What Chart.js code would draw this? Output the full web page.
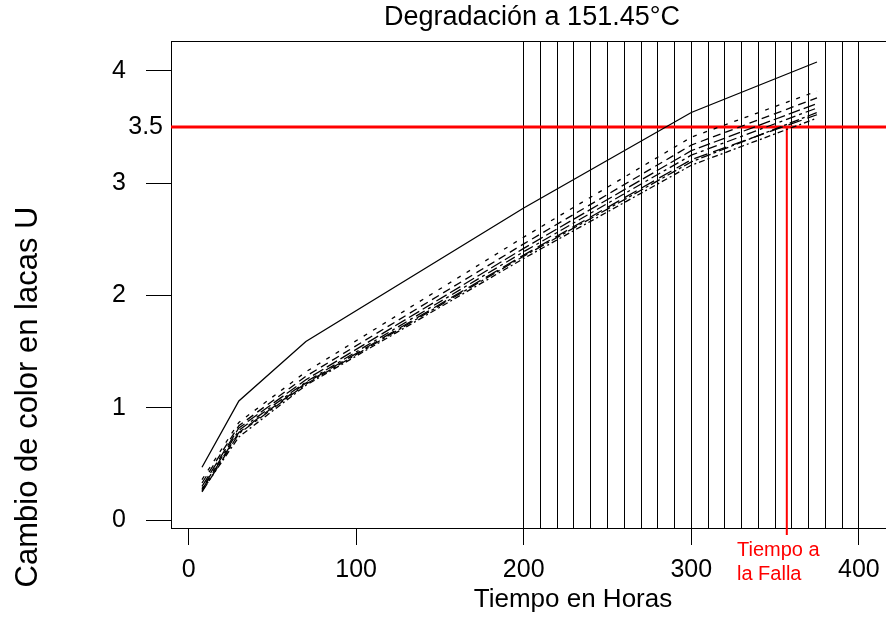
<!DOCTYPE html>
<html>
<head>
<meta charset="utf-8">
<script src="https://cdn.jsdelivr.net/npm/chart.js@4.4.1/dist/chart.umd.min.js"></script>
<style>
  html, body { margin: 0; padding: 0; background: #fff; }
  #wrap { width: 886px; height: 618px; position: relative; }
</style>
</head>
<body>
<div id="wrap"><canvas id="degradacion"></canvas></div>
<script>
// tiempos de medición (horas)
const horas = [8, 30, 70, 200, 300, 375];

// cambio de color de cada laca
const lacaU1 = [0.47, 1.06, 1.59, 2.78, 3.63, 4.08];
const lacaU2 = [0.36, 0.87, 1.32, 2.52, 3.41, 3.82];
const lacaU3 = [0.33, 0.84, 1.28, 2.46, 3.34, 3.76];
const lacaU4 = [0.30, 0.82, 1.25, 2.42, 3.29, 3.71];
const lacaU5 = [0.28, 0.80, 1.23, 2.39, 3.25, 3.67];
const lacaU6 = [0.27, 0.78, 1.22, 2.36, 3.21, 3.61];
const lacaU7 = [0.26, 0.74, 1.20, 2.33, 3.16, 3.58];
const lacaU8 = [0.25, 0.77, 1.21, 2.35, 3.19, 3.63];

const xTicks = [0, 100, 200, 300, 400];
const yTicks = [0, 1, 2, 3, 4];
const tiemposGrid = [200, 210, 220, 230, 240, 250, 260, 270, 280, 290, 300,
                     310, 320, 330, 340, 350, 360, 370, 380, 390, 400];
const umbral = 3.5;
const tiempoFalla = 357;

const X_MIN = -10.5, X_MAX = 416.2;
const Y_MIN = -0.071, Y_MAX = 4.267;

const FONT = "'Liberation Sans', Arial, sans-serif";
Chart.defaults.font.family = FONT;
Chart.defaults.color = '#000';

const series = [lacaU1, lacaU2, lacaU3, lacaU4, lacaU5, lacaU6, lacaU7, lacaU8];
const dashes = [[], [4, 7], [8, 5], [12, 4], [3, 4, 10, 4], [14, 6], [6, 3, 2, 3], [10, 3, 3, 3]];

const datasets = series.map((s, i) => ({
  data: s.map((v, j) => ({ x: horas[j], y: v })),
  borderColor: '#000',
  borderWidth: 1.3,
  borderDash: dashes[i],
  pointRadius: 0,
  tension: 0
}));

datasets.push({
  data: [{ x: X_MIN, y: umbral }, { x: X_MAX, y: umbral }],
  borderColor: '#ff0000',
  borderWidth: 3,
  pointRadius: 0
});
datasets.push({
  data: [{ x: tiempoFalla, y: umbral }, { x: tiempoFalla, y: -0.134 }],
  borderColor: '#ff0000',
  borderWidth: 2,
  pointRadius: 0,
  clip: false
});

// no reservar espacio para la etiqueta del último tick
const sinPadding = s => { s.paddingLeft = 0; s.paddingRight = 0; };

const textos = {
  id: 'textos',
  afterDraw(chart) {
    const { ctx, scales } = chart;
    ctx.save();
    ctx.fillStyle = '#000';
    ctx.textBaseline = 'middle';

    ctx.font = '27px ' + FONT;
    ctx.textAlign = 'center';
    ctx.fillText('Degradación a 151.45°C', 532, 18);
    ctx.font = '26px ' + FONT;
    ctx.fillText('Tiempo en Horas', 573, 600);

    ctx.font = '25px ' + FONT;
    ctx.textAlign = 'right';
    ctx.fillText('3.5', 163, scales.y.getPixelForValue(umbral));

    ctx.save();
    ctx.translate(28, 397);
    ctx.rotate(-Math.PI / 2);
    ctx.font = '31px ' + FONT;
    ctx.textAlign = 'center';
    ctx.fillText('Cambio de color en lacas U', 0, 0);
    ctx.restore();

    ctx.fillStyle = '#ff0000';
    ctx.font = '20px ' + FONT;
    ctx.textAlign = 'left';
    ctx.fillText('Tiempo a', 737, 550);
    ctx.fillText('la Falla', 737, 574);
    ctx.restore();
  }
};

new Chart(document.getElementById('degradacion'), {
  type: 'line',
  data: { datasets },
  options: {
    responsive: true,
    maintainAspectRatio: false,
    animation: false,
    layout: { padding: { top: 41, left: 0, right: 0, bottom: 0 } },
    plugins: {
      legend: { display: false },
      tooltip: { enabled: false }
    },
    scales: {
      x: {
        type: 'linear',
        min: X_MIN,
        max: X_MAX,
        afterBuildTicks: s => { s.ticks = xTicks.map(v => ({ value: v })); },
        afterFit: s => { s.height = 90; sinPadding(s); },
        grid: { drawOnChartArea: false, tickLength: 17, color: '#000', lineWidth: 1 },
        border: { display: true, color: '#000', width: 1 },
        ticks: { font: { size: 25 }, padding: 10, maxRotation: 0 }
      },
      x2: {
        type: 'linear',
        position: 'top',
        min: X_MIN,
        max: X_MAX,
        afterBuildTicks: s => { s.ticks = tiemposGrid.map(v => ({ value: v })); },
        afterFit: s => { s.height = 0; sinPadding(s); },
        grid: { drawOnChartArea: true, drawTicks: false, color: '#000', lineWidth: 1 },
        border: { display: true, color: '#000', width: 1 },
        ticks: { display: false }
      },
      y: {
        type: 'linear',
        min: Y_MIN,
        max: Y_MAX,
        afterBuildTicks: s => { s.ticks = yTicks.map(v => ({ value: v })); },
        afterFit: s => { s.width = 171; },
        grid: { drawOnChartArea: false, tickLength: 25, color: '#000', lineWidth: 1 },
        border: { display: true, color: '#000', width: 1 },
        ticks: { font: { size: 25 }, padding: 20 }
      }
    }
  },
  plugins: [textos]
});
</script>
</body>
</html>
